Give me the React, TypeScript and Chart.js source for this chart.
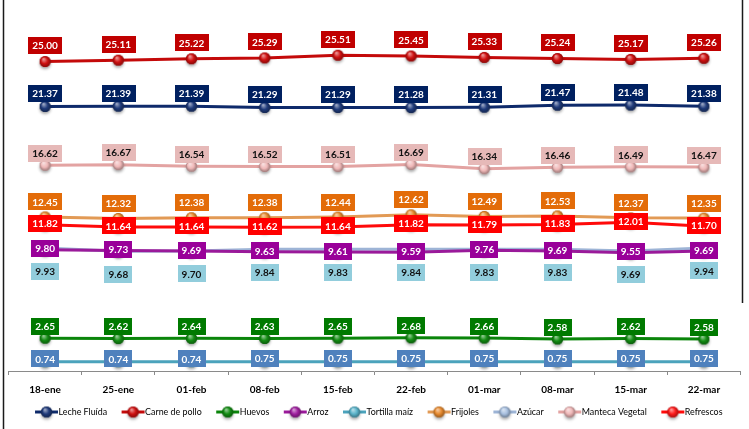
import React, { useEffect, useRef } from "react";
import { Chart, registerables } from "chart.js";

Chart.register(...registerables);

const categories = ["18-ene", "25-ene", "01-feb", "08-feb", "15-feb", "22-feb", "01-mar", "08-mar", "15-mar", "22-mar"];

const lecheFluida = [21.37, 21.39, 21.39, 21.29, 21.29, 21.28, 21.31, 21.47, 21.48, 21.38];
const carneDePollo = [25.0, 25.11, 25.22, 25.29, 25.51, 25.45, 25.33, 25.24, 25.17, 25.26];
const huevos = [2.65, 2.62, 2.64, 2.63, 2.65, 2.68, 2.66, 2.58, 2.62, 2.58];
const arroz = [9.8, 9.73, 9.69, 9.63, 9.61, 9.59, 9.76, 9.69, 9.55, 9.69];
const tortillaMaiz = [0.74, 0.74, 0.74, 0.75, 0.75, 0.75, 0.75, 0.75, 0.75, 0.75];
const frijoles = [12.45, 12.32, 12.38, 12.38, 12.44, 12.62, 12.49, 12.53, 12.37, 12.35];
const azucar = [9.93, 9.68, 9.7, 9.84, 9.83, 9.84, 9.83, 9.83, 9.69, 9.94];
const mantecaVegetal = [16.62, 16.67, 16.54, 16.52, 16.51, 16.69, 16.34, 16.46, 16.49, 16.47];
const refrescos = [11.82, 11.64, 11.64, 11.62, 11.64, 11.82, 11.79, 11.83, 12.01, 11.7];

type SeriesStyle = {
  label: string;
  data: number[];
  line: string;
  marker: string;
  boxBg: string;
  boxText: string;
  labelDy: number;
};

const series: SeriesStyle[] = [
  { label: "Leche Fluída", data: lecheFluida, line: "#0E2A6B", marker: "#1F3A7A", boxBg: "#002060", boxText: "#FFFFFF", labelDy: -13 },
  { label: "Carne de pollo", data: carneDePollo, line: "#C40A0A", marker: "#D01010", boxBg: "#C00000", boxText: "#FFFFFF", labelDy: -16 },
  { label: "Huevos", data: huevos, line: "#0A850A", marker: "#128C12", boxBg: "#007A00", boxText: "#FFFFFF", labelDy: -12 },
  { label: "Arroz", data: arroz, line: "#9A1A9A", marker: "#A020A0", boxBg: "#990099", boxText: "#FFFFFF", labelDy: -1 },
  { label: "Tortilla maíz", data: tortillaMaiz, line: "#4BA3BC", marker: "#5AB3CA", boxBg: "#4F81BD", boxText: "#FFFFFF", labelDy: -3 },
  { label: "Frijoles", data: frijoles, line: "#E29A55", marker: "#E88A2E", boxBg: "#E36C09", boxText: "#FFFFFF", labelDy: -15 },
  { label: "Azúcar", data: azucar, line: "#9DB4D6", marker: "#A8C0E0", boxBg: "#92CDDC", boxText: "#111111", labelDy: 23 },
  { label: "Manteca Vegetal", data: mantecaVegetal, line: "#E3A3A2", marker: "#F0B8B8", boxBg: "#E6B9B8", boxText: "#111111", labelDy: -12 },
  { label: "Refrescos", data: refrescos, line: "#FF0A0A", marker: "#FF1A1A", boxBg: "#FF0000", boxText: "#FFFFFF", labelDy: -1 },
];

const labelOrder = ["Leche Fluída", "Carne de pollo", "Huevos", "Tortilla maíz", "Frijoles", "Azúcar", "Manteca Vegetal", "Arroz", "Refrescos"];

function hexToRgb(h: string) {
  const v = h.replace("#", "");
  return [parseInt(v.slice(0, 2), 16), parseInt(v.slice(2, 4), 16), parseInt(v.slice(4, 6), 16)];
}
function mix(h: string, t: number, target: number) {
  const [r, g, b] = hexToRgb(h);
  const f = (c: number) => Math.round(c + (target - c) * t);
  return `rgb(${f(r)},${f(g)},${f(b)})`;
}

function sphere(color: string, r: number): HTMLCanvasElement {
  const pad = 5;
  const size = Math.ceil(r * 2 + pad * 2);
  const c = document.createElement("canvas");
  c.width = size;
  c.height = size;
  const ctx = c.getContext("2d")!;
  const cx = size / 2;
  const cy = size / 2;
  ctx.save();
  ctx.shadowColor = "rgba(0,0,0,0.35)";
  ctx.shadowBlur = 3;
  ctx.shadowOffsetY = 2;
  ctx.beginPath();
  ctx.arc(cx, cy, r, 0, Math.PI * 2);
  ctx.fillStyle = color;
  ctx.fill();
  ctx.restore();
  const g = ctx.createRadialGradient(cx - r * 0.3, cy - r * 0.45, r * 0.1, cx, cy, r);
  g.addColorStop(0, mix(color, 0.55, 255));
  g.addColorStop(0.55, color);
  g.addColorStop(1, mix(color, 0.35, 0));
  ctx.beginPath();
  ctx.arc(cx, cy, r, 0, Math.PI * 2);
  ctx.fillStyle = g;
  ctx.fill();
  return c;
}

const FONT = "Lato, 'DejaVu Sans', sans-serif";

export default function App() {
  const ref = useRef<HTMLCanvasElement | null>(null);

  useEffect(() => {
    document.body.style.margin = "0";
    const canvas = ref.current;
    if (!canvas) return;

    const spheres = series.map((s) => sphere(s.marker, 5.5));

    const labelPlugin = {
      id: "valueBoxes",
      afterDatasetsDraw(chart: any) {
        const ctx = chart.ctx as CanvasRenderingContext2D;
        ctx.save();
        ctx.font = `bold 10px ${FONT}`;
        ctx.textAlign = "center";
        ctx.textBaseline = "middle";
        labelOrder.forEach((name) => {
          const i = series.findIndex((s) => s.label === name);
          const s = series[i];
          const meta = chart.getDatasetMeta(i);
          meta.data.forEach((pt: any, j: number) => {
            const txt = s.data[j].toFixed(2);
            const w = ctx.measureText(txt).width + 8;
            const h = 17;
            const cx = pt.x;
            const cy = pt.y + s.labelDy;
            ctx.fillStyle = s.boxBg;
            ctx.fillRect(Math.round(cx - w / 2), Math.round(cy - h / 2), Math.round(w), h);
            ctx.fillStyle = s.boxText;
            ctx.fillText(txt, cx, cy + 0.5);
          });
        });
        ctx.restore();
      },
    };

    const framePlugin = {
      id: "frameAndLegend",
      afterDraw(chart: any) {
        const ctx = chart.ctx as CanvasRenderingContext2D;
        ctx.save();
        ctx.strokeStyle = "#1a1a1a";
        ctx.lineWidth = 1.5;
        ctx.beginPath();
        ctx.moveTo(3.5, 0);
        ctx.lineTo(3.5, 429);
        ctx.moveTo(742.5, 0);
        ctx.lineTo(742.5, 303);
        ctx.stroke();

        // legend
        const markerW = 23;
        const gap = 15;
        const targetText = 360;
        ctx.font = `10px ${FONT}`;
        const base = series.reduce((a, s) => a + ctx.measureText(s.label).width, 0);
        const fs = Math.min(10, (10 * targetText) / base);
        ctx.font = `${fs.toFixed(2)}px ${FONT}`;
        ctx.textBaseline = "middle";
        ctx.textAlign = "left";
        const widths = series.map((s) => ctx.measureText(s.label).width);
        const total = widths.reduce((a, b) => a + b + markerW, 0) + gap * (series.length - 1);
        let x = 378.5 - total / 2;
        const y = 412;
        series.forEach((s, i) => {
          ctx.strokeStyle = s.line;
          ctx.lineWidth = 3;
          ctx.beginPath();
          ctx.moveTo(x, y);
          ctx.lineTo(x + markerW, y);
          ctx.stroke();
          const img = spheres[i];
          ctx.drawImage(img, x + markerW / 2 - img.width / 2, y - img.height / 2);
          ctx.fillStyle = "#000";
          ctx.fillText(s.label, x + markerW + 0.5, y + 0.5);
          x += markerW + widths[i] + gap;
        });
        ctx.restore();
      },
    };

    const chart = new Chart(canvas, {
      type: "line",
      data: {
        labels: categories,
        datasets: series.map((s, i) => ({
          label: s.label,
          data: s.data,
          borderColor: s.line,
          backgroundColor: s.marker,
          borderWidth: 3,
          tension: 0,
          pointStyle: spheres[i] as any,
          pointRadius: 5.5,
          fill: false,
        })),
      },
      options: {
        animation: false,
        responsive: true,
        maintainAspectRatio: false,
        layout: { padding: { top: 12, left: 5, right: 7, bottom: 0 } },
        plugins: {
          legend: { display: false },
          tooltip: { enabled: false },
        },
        scales: {
          x: {
            type: "category",
            offset: true,
            grid: {
              offset: true,
              drawOnChartArea: false,
              drawTicks: true,
              tickLength: 4,
              color: "#8a8a8a",
            },
            border: { color: "#8a8a8a", width: 1 },
            ticks: {
              font: { family: FONT, size: 10, weight: "bold" },
              color: "#000",
              padding: 9,
              maxRotation: 0,
              autoSkip: false,
            },
            afterFit: (scale: any) => {
              scale.height = 58;
            },
          },
          y: {
            display: false,
            min: 0,
            max: 29,
          },
        },
      },
      plugins: [labelPlugin, framePlugin],
    });

    return () => chart.destroy();
  }, []);

  return (
    <div style={{ position: "relative", width: 749, height: 429, background: "#fff" }}>
      <canvas ref={ref} />
    </div>
  );
}
